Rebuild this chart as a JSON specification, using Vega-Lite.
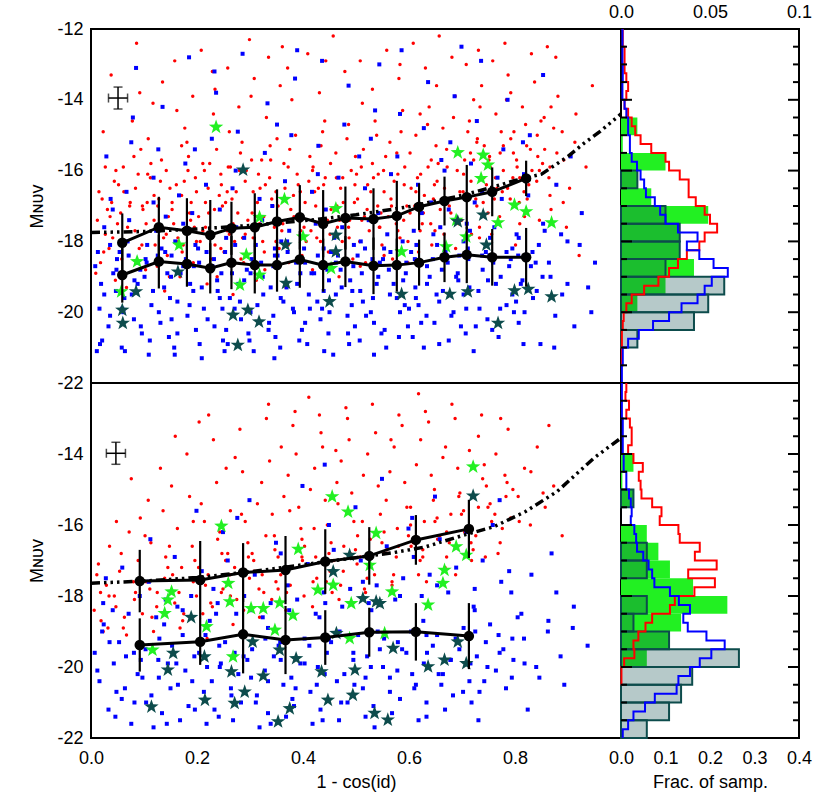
{
  "$schema": "https://vega.github.io/schema/vega-lite/v6.json",
  "padding": {"left": 27, "top": 2, "right": 5, "bottom": 5},
  "config": {
    "font": "Liberation Sans",
    "view": {"stroke": "black", "strokeWidth": 2},
    "axis": {
      "grid": false, "domain": false, "ticks": false,
      "labelPadding": 8, "labelFontSize": 18, "labelColor": "black", "labelFlush": false, "labelOverlap": false,
      "titleFontSize": 18, "titleFontWeight": "normal", "titleColor": "black"
    },
    "axisBottom": {"labelPadding": 11}
  },
  "datasets": {
    "tMajY": [{"v":-14},{"v":-16},{"v":-18},{"v":-20}],
    "tMinY": [{"v":-12.5},{"v":-13},{"v":-13.5},{"v":-14.5},{"v":-15},{"v":-15.5},{"v":-16.5},{"v":-17},{"v":-17.5},{"v":-18.5},{"v":-19},{"v":-19.5},{"v":-20.5},{"v":-21},{"v":-21.5}],
    "tMajX": [{"v":0.2},{"v":0.4},{"v":0.6},{"v":0.8}],
    "tMinX": [{"v":0.05},{"v":0.1},{"v":0.15},{"v":0.25},{"v":0.3},{"v":0.35},{"v":0.45},{"v":0.5},{"v":0.55},{"v":0.65},{"v":0.7},{"v":0.75},{"v":0.85},{"v":0.9},{"v":0.95}],
    "tHT": [{"v":0.025},{"v":0.05},{"v":0.075}],
    "tHB": [{"v":0.1},{"v":0.2},{"v":0.3}],
    "redTop": [
      {"x":0.012,"y":-17.4},{"x":0.021,"y":-16.8},{"x":0.034,"y":-18.2},{"x":0.041,"y":-17.9},{"x":0.027,"y":-15.9},{"x":0.046,"y":-19.1},{"x":0.018,"y":-18.6},{"x":0.038,"y":-13.3},{"x":0.044,"y":-16.3},
      {"x":0.056,"y":-17.2},{"x":0.062,"y":-16.6},{"x":0.071,"y":-18.4},{"x":0.083,"y":-17.7},{"x":0.094,"y":-15.4},{"x":0.067,"y":-19.3},{"x":0.089,"y":-16.1},{"x":0.078,"y":-14.6},{"x":0.097,"y":-17.0},{"x":0.059,"y":-18.9},{"x":0.086,"y":-12.4},{"x":0.074,"y":-16.9},
      {"x":0.104,"y":-17.5},{"x":0.112,"y":-16.2},{"x":0.121,"y":-18.1},{"x":0.133,"y":-15.7},{"x":0.146,"y":-17.3},{"x":0.139,"y":-19.4},{"x":0.117,"y":-14.1},{"x":0.128,"y":-16.8},{"x":0.142,"y":-17.8},{"x":0.108,"y":-15.1},{"x":0.135,"y":-13.5},{"x":0.149,"y":-16.5},{"x":0.125,"y":-18.7},
      {"x":0.153,"y":-17.1},{"x":0.161,"y":-16.4},{"x":0.172,"y":-18.3},{"x":0.184,"y":-15.6},{"x":0.195,"y":-17.6},{"x":0.168,"y":-19.0},{"x":0.177,"y":-14.8},{"x":0.189,"y":-16.9},{"x":0.158,"y":-12.9},{"x":0.199,"y":-18.0},{"x":0.181,"y":-15.2},{"x":0.164,"y":-17.9},{"x":0.192,"y":-13.9},
      {"x":0.203,"y":-17.3},{"x":0.214,"y":-16.0},{"x":0.226,"y":-18.5},{"x":0.237,"y":-15.4},{"x":0.248,"y":-17.0},{"x":0.219,"y":-19.2},{"x":0.231,"y":-14.4},{"x":0.242,"y":-16.7},{"x":0.208,"y":-12.6},{"x":0.245,"y":-18.2},{"x":0.224,"y":-15.8},{"x":0.211,"y":-17.7},{"x":0.234,"y":-13.7},
      {"x":0.254,"y":-16.9},{"x":0.263,"y":-15.9},{"x":0.271,"y":-18.0},{"x":0.285,"y":-15.2},{"x":0.296,"y":-17.4},{"x":0.268,"y":-19.5},{"x":0.279,"y":-14.2},{"x":0.291,"y":-16.3},{"x":0.258,"y":-13.1},{"x":0.288,"y":-18.6},{"x":0.274,"y":-16.6},{"x":0.261,"y":-17.8},{"x":0.299,"y":-12.3},{"x":0.282,"y":-15.5},
      {"x":0.304,"y":-17.2},{"x":0.316,"y":-16.1},{"x":0.327,"y":-18.3},{"x":0.338,"y":-15.3},{"x":0.346,"y":-17.6},{"x":0.312,"y":-19.1},{"x":0.331,"y":-14.5},{"x":0.341,"y":-16.8},{"x":0.308,"y":-13.4},{"x":0.349,"y":-18.0},{"x":0.322,"y":-15.7},{"x":0.335,"y":-12.8},{"x":0.319,"y":-16.5},
      {"x":0.353,"y":-17.0},{"x":0.364,"y":-15.8},{"x":0.372,"y":-18.1},{"x":0.386,"y":-15.0},{"x":0.394,"y":-17.3},{"x":0.368,"y":-19.3},{"x":0.379,"y":-14.0},{"x":0.391,"y":-16.4},{"x":0.357,"y":-13.6},{"x":0.398,"y":-18.4},{"x":0.382,"y":-16.7},{"x":0.361,"y":-12.5},{"x":0.375,"y":-15.4},
      {"x":0.404,"y":-16.9},{"x":0.413,"y":-15.6},{"x":0.426,"y":-17.9},{"x":0.437,"y":-14.9},{"x":0.446,"y":-17.4},{"x":0.418,"y":-18.8},{"x":0.431,"y":-13.8},{"x":0.442,"y":-16.2},{"x":0.409,"y":-12.7},{"x":0.448,"y":-18.3},{"x":0.422,"y":-16.6},{"x":0.434,"y":-15.3},{"x":0.415,"y":-17.7},
      {"x":0.453,"y":-17.1},{"x":0.462,"y":-15.5},{"x":0.474,"y":-18.0},{"x":0.486,"y":-14.7},{"x":0.497,"y":-16.9},{"x":0.468,"y":-19.0},{"x":0.479,"y":-13.2},{"x":0.491,"y":-16.0},{"x":0.457,"y":-12.2},{"x":0.494,"y":-18.5},{"x":0.471,"y":-16.5},{"x":0.483,"y":-15.1},{"x":0.465,"y":-17.6},
      {"x":0.503,"y":-16.8},{"x":0.514,"y":-15.4},{"x":0.525,"y":-17.7},{"x":0.536,"y":-14.6},{"x":0.547,"y":-17.2},{"x":0.518,"y":-18.6},{"x":0.531,"y":-13.7},{"x":0.542,"y":-16.1},{"x":0.508,"y":-12.9},{"x":0.549,"y":-18.1},{"x":0.522,"y":-16.4},{"x":0.539,"y":-15.0},{"x":0.511,"y":-17.4},
      {"x":0.553,"y":-16.6},{"x":0.564,"y":-15.2},{"x":0.576,"y":-17.5},{"x":0.588,"y":-14.3},{"x":0.596,"y":-17.0},{"x":0.569,"y":-18.5},{"x":0.581,"y":-13.4},{"x":0.592,"y":-15.9},{"x":0.558,"y":-12.6},{"x":0.598,"y":-18.0},{"x":0.572,"y":-16.3},{"x":0.585,"y":-14.9},{"x":0.561,"y":-17.3},
      {"x":0.604,"y":-16.5},{"x":0.613,"y":-15.0},{"x":0.627,"y":-17.2},{"x":0.638,"y":-14.2},{"x":0.646,"y":-16.8},{"x":0.618,"y":-18.3},{"x":0.631,"y":-13.1},{"x":0.642,"y":-15.7},{"x":0.608,"y":-12.4},{"x":0.649,"y":-17.7},{"x":0.622,"y":-16.1},{"x":0.635,"y":-14.7},{"x":0.611,"y":-17.0},
      {"x":0.653,"y":-16.3},{"x":0.664,"y":-14.8},{"x":0.676,"y":-17.0},{"x":0.687,"y":-13.9},{"x":0.696,"y":-16.6},{"x":0.668,"y":-18.1},{"x":0.681,"y":-12.8},{"x":0.692,"y":-15.5},{"x":0.657,"y":-12.2},{"x":0.699,"y":-17.4},{"x":0.672,"y":-15.9},{"x":0.684,"y":-14.5},{"x":0.661,"y":-16.9},
      {"x":0.703,"y":-16.1},{"x":0.714,"y":-14.6},{"x":0.726,"y":-16.8},{"x":0.737,"y":-13.6},{"x":0.746,"y":-16.4},{"x":0.718,"y":-17.8},{"x":0.731,"y":-12.6},{"x":0.742,"y":-15.3},{"x":0.708,"y":-13.0},{"x":0.749,"y":-17.2},{"x":0.722,"y":-15.7},{"x":0.734,"y":-14.2},{"x":0.711,"y":-16.7},
      {"x":0.753,"y":-15.9},{"x":0.764,"y":-14.4},{"x":0.776,"y":-16.6},{"x":0.787,"y":-13.3},{"x":0.796,"y":-16.2},{"x":0.768,"y":-17.5},{"x":0.781,"y":-12.4},{"x":0.792,"y":-15.1},{"x":0.758,"y":-12.9},{"x":0.799,"y":-17.0},{"x":0.772,"y":-15.5},{"x":0.784,"y":-14.0},{"x":0.761,"y":-16.8},
      {"x":0.803,"y":-15.7},{"x":0.814,"y":-14.2},{"x":0.826,"y":-16.4},{"x":0.837,"y":-13.5},{"x":0.846,"y":-16.0},{"x":0.818,"y":-17.3},{"x":0.831,"y":-12.7},{"x":0.842,"y":-15.0},{"x":0.808,"y":-16.9},{"x":0.849,"y":-14.6},{"x":0.822,"y":-15.3},
      {"x":0.856,"y":-15.4},{"x":0.864,"y":-16.2},{"x":0.873,"y":-14.8},{"x":0.881,"y":-13.9},{"x":0.868,"y":-17.1},{"x":0.892,"y":-15.7},{"x":0.877,"y":-12.8},{"x":0.903,"y":-16.5},{"x":0.915,"y":-14.4},{"x":0.897,"y":-17.6},{"x":0.934,"y":-15.9},{"x":0.921,"y":-18.4},{"x":0.946,"y":-13.6},
      {"x":0.031,"y":-17.1},{"x":0.052,"y":-16.4},{"x":0.069,"y":-17.6},{"x":0.091,"y":-18.2},{"x":0.106,"y":-16.9},{"x":0.119,"y":-17.4},{"x":0.131,"y":-16.3},{"x":0.144,"y":-18.4},{"x":0.156,"y":-17.5},{"x":0.171,"y":-16.7},{"x":0.186,"y":-17.2},{"x":0.197,"y":-16.2},{"x":0.206,"y":-18.0},{"x":0.221,"y":-16.5},{"x":0.233,"y":-17.1},{"x":0.246,"y":-16.4},{"x":0.257,"y":-17.7},{"x":0.266,"y":-16.8},{"x":0.277,"y":-17.2},{"x":0.293,"y":-16.0},
      {"x":0.306,"y":-16.6},{"x":0.318,"y":-17.5},{"x":0.329,"y":-16.4},{"x":0.343,"y":-17.0},{"x":0.355,"y":-18.2},{"x":0.366,"y":-16.5},{"x":0.377,"y":-17.1},{"x":0.389,"y":-16.1},{"x":0.402,"y":-17.6},{"x":0.411,"y":-16.3},{"x":0.424,"y":-17.0},{"x":0.439,"y":-16.4},{"x":0.451,"y":-17.8},{"x":0.463,"y":-16.2},{"x":0.476,"y":-16.9},{"x":0.488,"y":-17.4},{"x":0.501,"y":-16.1},{"x":0.516,"y":-17.3},{"x":0.528,"y":-16.6},{"x":0.541,"y":-17.0},
      {"x":0.552,"y":-16.0},{"x":0.566,"y":-16.8},{"x":0.579,"y":-17.7},{"x":0.591,"y":-16.4},{"x":0.602,"y":-17.2},{"x":0.616,"y":-16.2},{"x":0.629,"y":-16.7},{"x":0.641,"y":-17.5},{"x":0.655,"y":-15.8},{"x":0.667,"y":-16.5},{"x":0.679,"y":-17.2},{"x":0.691,"y":-16.0},{"x":0.702,"y":-16.6},{"x":0.716,"y":-15.5},{"x":0.728,"y":-17.0},{"x":0.741,"y":-16.2},{"x":0.752,"y":-15.6},{"x":0.766,"y":-16.5},{"x":0.778,"y":-15.3},{"x":0.791,"y":-16.8},
      {"x":0.804,"y":-15.9},{"x":0.817,"y":-16.6},{"x":0.829,"y":-15.4},{"x":0.841,"y":-16.3},{"x":0.852,"y":-15.8},{"x":0.866,"y":-16.7},{"x":0.879,"y":-15.5},{"x":0.024,"y":-18.3},{"x":0.063,"y":-18.0},{"x":0.098,"y":-17.1},{"x":0.137,"y":-17.9},{"x":0.174,"y":-18.1},{"x":0.216,"y":-17.6},{"x":0.251,"y":-18.3},{"x":0.286,"y":-17.9},{"x":0.324,"y":-18.0},{"x":0.362,"y":-17.5},{"x":0.397,"y":-17.9},{"x":0.433,"y":-18.0},{"x":0.469,"y":-17.4},
      {"x":0.507,"y":-18.0},{"x":0.545,"y":-17.6},{"x":0.583,"y":-17.9},{"x":0.621,"y":-17.7},{"x":0.659,"y":-17.6},{"x":0.697,"y":-17.4},{"x":0.733,"y":-17.6},{"x":0.771,"y":-17.3},{"x":0.809,"y":-17.5},{"x":0.047,"y":-16.0},{"x":0.113,"y":-15.8},{"x":0.183,"y":-16.0},{"x":0.259,"y":-15.9},{"x":0.339,"y":-15.7},{"x":0.419,"y":-15.9},{"x":0.499,"y":-15.6},{"x":0.577,"y":-15.5},{"x":0.651,"y":-15.3},{"x":0.729,"y":-15.1},{"x":0.798,"y":-14.9},
      {"x":0.015,"y":-16.6},{"x":0.027,"y":-17.8},{"x":0.039,"y":-16.9},{"x":0.050,"y":-17.5},{"x":0.061,"y":-15.9},{"x":0.073,"y":-17.0},{"x":0.084,"y":-16.5},{"x":0.096,"y":-18.1},{"x":0.107,"y":-16.1},{"x":0.119,"y":-16.7},{"x":0.130,"y":-17.6},{"x":0.142,"y":-16.0},{"x":0.153,"y":-16.9},{"x":0.165,"y":-18.0},{"x":0.176,"y":-16.3},{"x":0.188,"y":-17.4},{"x":0.199,"y":-16.6},{"x":0.211,"y":-15.8},{"x":0.222,"y":-17.2},{"x":0.234,"y":-18.1},
      {"x":0.245,"y":-16.1},{"x":0.257,"y":-16.6},{"x":0.268,"y":-17.5},{"x":0.280,"y":-16.0},{"x":0.291,"y":-17.8},{"x":0.303,"y":-15.7},{"x":0.314,"y":-16.9},{"x":0.326,"y":-17.3},{"x":0.337,"y":-16.2},{"x":0.349,"y":-16.6},{"x":0.360,"y":-17.7},{"x":0.372,"y":-15.9},{"x":0.383,"y":-17.3},{"x":0.395,"y":-16.6},{"x":0.406,"y":-18.0},{"x":0.418,"y":-16.0},{"x":0.429,"y":-16.5},{"x":0.441,"y":-17.5},{"x":0.452,"y":-15.8},{"x":0.464,"y":-17.0},
      {"x":0.475,"y":-16.2},{"x":0.487,"y":-17.9},{"x":0.498,"y":-16.4},{"x":0.510,"y":-15.9},{"x":0.521,"y":-17.1},{"x":0.533,"y":-16.2},{"x":0.544,"y":-17.6},{"x":0.556,"y":-15.6},{"x":0.567,"y":-17.0},{"x":0.579,"y":-16.1},{"x":0.590,"y":-17.4},{"x":0.602,"y":-15.5},{"x":0.613,"y":-16.6},{"x":0.625,"y":-17.5},{"x":0.636,"y":-15.9},{"x":0.648,"y":-16.4},{"x":0.659,"y":-17.1},{"x":0.671,"y":-15.4},{"x":0.682,"y":-16.8},{"x":0.694,"y":-17.5},
      {"x":0.705,"y":-15.7},{"x":0.717,"y":-16.3},{"x":0.728,"y":-15.2},{"x":0.740,"y":-16.9},{"x":0.751,"y":-15.7},{"x":0.763,"y":-16.2},{"x":0.774,"y":-14.9},{"x":0.786,"y":-16.5},{"x":0.797,"y":-15.5},{"x":0.809,"y":-16.2},{"x":0.820,"y":-14.7},{"x":0.832,"y":-16.0},{"x":0.843,"y":-15.6},{"x":0.855,"y":-14.5},{"x":0.866,"y":-15.9},{"x":0.878,"y":-16.4},{"x":0.889,"y":-14.9},
      {"x":0.009,"y":-18.9},{"x":0.036,"y":-17.3},{"x":0.058,"y":-18.5},{"x":0.081,"y":-15.6},{"x":0.103,"y":-18.8},{"x":0.126,"y":-17.0},{"x":0.148,"y":-19.0},{"x":0.171,"y":-15.3},{"x":0.193,"y":-18.6},{"x":0.216,"y":-16.9},{"x":0.238,"y":-19.0},{"x":0.261,"y":-14.9},{"x":0.283,"y":-18.5},{"x":0.306,"y":-17.9},{"x":0.328,"y":-18.8},{"x":0.351,"y":-15.1},{"x":0.373,"y":-18.6},{"x":0.396,"y":-17.7},{"x":0.418,"y":-18.9},{"x":0.441,"y":-14.6},
      {"x":0.463,"y":-18.3},{"x":0.486,"y":-17.6},{"x":0.508,"y":-18.7},{"x":0.531,"y":-15.8},{"x":0.553,"y":-18.4},{"x":0.576,"y":-17.2},{"x":0.598,"y":-18.6},{"x":0.621,"y":-14.4},{"x":0.643,"y":-18.1},{"x":0.666,"y":-17.8},{"x":0.688,"y":-18.2},{"x":0.711,"y":-14.9},{"x":0.733,"y":-17.9},{"x":0.756,"y":-17.8},{"x":0.778,"y":-16.0},{"x":0.801,"y":-18.1},{"x":0.823,"y":-16.8},{"x":0.846,"y":-17.4},{"x":0.868,"y":-14.2},{"x":0.891,"y":-16.9},
      {"x":0.913,"y":-15.2},{"x":0.023,"y":-14.9},{"x":0.092,"y":-13.8},{"x":0.162,"y":-14.3},{"x":0.229,"y":-13.2},{"x":0.302,"y":-13.9},{"x":0.371,"y":-13.1},{"x":0.443,"y":-12.9},{"x":0.512,"y":-14.1},{"x":0.583,"y":-13.0},{"x":0.652,"y":-13.6},{"x":0.722,"y":-14.0},{"x":0.792,"y":-13.8},{"x":0.861,"y":-12.5}
    ],
    "blueTop": [
      {"x":0.008,"y":-18.7},{"x":0.016,"y":-19.9},{"x":0.025,"y":-17.6},{"x":0.033,"y":-20.4},{"x":0.042,"y":-18.9},{"x":0.011,"y":-21.1},{"x":0.029,"y":-15.6},{"x":0.047,"y":-19.4},{"x":0.037,"y":-16.8},{"x":0.021,"y":-20.8},
      {"x":0.054,"y":-18.3},{"x":0.063,"y":-19.6},{"x":0.072,"y":-17.4},{"x":0.081,"y":-20.2},{"x":0.093,"y":-18.8},{"x":0.058,"y":-21.0},{"x":0.076,"y":-15.2},{"x":0.088,"y":-19.2},{"x":0.067,"y":-16.6},{"x":0.096,"y":-20.6},{"x":0.085,"y":-13.1},{"x":0.069,"y":-18.0},
      {"x":0.103,"y":-18.5},{"x":0.114,"y":-19.8},{"x":0.123,"y":-17.7},{"x":0.131,"y":-20.3},{"x":0.144,"y":-18.9},{"x":0.109,"y":-21.2},{"x":0.127,"y":-15.4},{"x":0.138,"y":-19.3},{"x":0.118,"y":-16.9},{"x":0.147,"y":-20.7},{"x":0.135,"y":-14.2},{"x":0.106,"y":-18.1},{"x":0.141,"y":-17.3},
      {"x":0.152,"y":-18.4},{"x":0.163,"y":-19.7},{"x":0.174,"y":-17.5},{"x":0.182,"y":-20.1},{"x":0.194,"y":-18.7},{"x":0.157,"y":-21.0},{"x":0.178,"y":-15.8},{"x":0.187,"y":-19.2},{"x":0.166,"y":-16.7},{"x":0.198,"y":-20.5},{"x":0.185,"y":-12.8},{"x":0.159,"y":-18.0},{"x":0.191,"y":-17.2},
      {"x":0.204,"y":-18.6},{"x":0.213,"y":-19.9},{"x":0.225,"y":-17.8},{"x":0.233,"y":-20.4},{"x":0.246,"y":-18.9},{"x":0.209,"y":-21.3},{"x":0.228,"y":-15.1},{"x":0.239,"y":-19.4},{"x":0.217,"y":-16.4},{"x":0.249,"y":-20.8},{"x":0.236,"y":-13.8},{"x":0.202,"y":-18.2},{"x":0.243,"y":-17.1},
      {"x":0.253,"y":-18.3},{"x":0.262,"y":-19.6},{"x":0.274,"y":-17.6},{"x":0.283,"y":-20.2},{"x":0.294,"y":-18.8},{"x":0.258,"y":-20.9},{"x":0.277,"y":-14.9},{"x":0.289,"y":-19.1},{"x":0.267,"y":-16.5},{"x":0.297,"y":-20.6},{"x":0.286,"y":-12.7},{"x":0.255,"y":-17.9},{"x":0.271,"y":-19.9},
      {"x":0.303,"y":-18.5},{"x":0.314,"y":-19.8},{"x":0.323,"y":-17.4},{"x":0.336,"y":-20.3},{"x":0.344,"y":-18.7},{"x":0.307,"y":-21.1},{"x":0.328,"y":-15.5},{"x":0.339,"y":-19.3},{"x":0.318,"y":-16.8},{"x":0.348,"y":-20.7},{"x":0.333,"y":-14.1},{"x":0.311,"y":-18.1},{"x":0.342,"y":-17.0},
      {"x":0.352,"y":-18.4},{"x":0.363,"y":-19.7},{"x":0.374,"y":-17.7},{"x":0.383,"y":-20.0},{"x":0.395,"y":-18.9},{"x":0.357,"y":-21.0},{"x":0.378,"y":-15.0},{"x":0.389,"y":-19.2},{"x":0.366,"y":-16.3},{"x":0.398,"y":-20.5},{"x":0.385,"y":-13.4},{"x":0.359,"y":-18.0},{"x":0.392,"y":-17.3},
      {"x":0.404,"y":-18.6},{"x":0.413,"y":-19.9},{"x":0.424,"y":-17.5},{"x":0.433,"y":-20.2},{"x":0.446,"y":-18.8},{"x":0.408,"y":-20.9},{"x":0.429,"y":-15.3},{"x":0.439,"y":-19.4},{"x":0.417,"y":-16.6},{"x":0.448,"y":-20.6},{"x":0.436,"y":-12.9},{"x":0.402,"y":-18.2},{"x":0.443,"y":-17.1},
      {"x":0.453,"y":-18.3},{"x":0.462,"y":-19.5},{"x":0.474,"y":-17.6},{"x":0.484,"y":-20.1},{"x":0.495,"y":-18.7},{"x":0.457,"y":-21.2},{"x":0.478,"y":-14.7},{"x":0.489,"y":-19.1},{"x":0.467,"y":-16.2},{"x":0.498,"y":-20.4},{"x":0.486,"y":-13.6},{"x":0.459,"y":-17.9},{"x":0.492,"y":-19.8},
      {"x":0.503,"y":-18.4},{"x":0.513,"y":-19.7},{"x":0.524,"y":-17.4},{"x":0.534,"y":-20.3},{"x":0.545,"y":-18.6},{"x":0.507,"y":-20.8},{"x":0.528,"y":-15.1},{"x":0.539,"y":-19.2},{"x":0.517,"y":-16.5},{"x":0.548,"y":-20.6},{"x":0.536,"y":-14.3},{"x":0.509,"y":-18.0},{"x":0.542,"y":-17.2},
      {"x":0.553,"y":-18.2},{"x":0.564,"y":-19.5},{"x":0.574,"y":-17.3},{"x":0.583,"y":-20.0},{"x":0.595,"y":-18.6},{"x":0.557,"y":-21.0},{"x":0.578,"y":-15.6},{"x":0.589,"y":-19.1},{"x":0.566,"y":-16.1},{"x":0.598,"y":-20.4},{"x":0.586,"y":-12.6},{"x":0.559,"y":-17.8},{"x":0.592,"y":-19.8},
      {"x":0.604,"y":-18.3},{"x":0.613,"y":-19.6},{"x":0.624,"y":-17.2},{"x":0.633,"y":-20.1},{"x":0.645,"y":-18.5},{"x":0.607,"y":-20.7},{"x":0.628,"y":-14.8},{"x":0.639,"y":-19.0},{"x":0.617,"y":-16.4},{"x":0.648,"y":-20.3},{"x":0.636,"y":-13.5},{"x":0.609,"y":-17.7},{"x":0.642,"y":-16.9},
      {"x":0.653,"y":-18.1},{"x":0.664,"y":-19.4},{"x":0.675,"y":-17.1},{"x":0.684,"y":-20.0},{"x":0.695,"y":-18.4},{"x":0.657,"y":-20.9},{"x":0.678,"y":-15.2},{"x":0.689,"y":-19.0},{"x":0.667,"y":-16.0},{"x":0.698,"y":-20.4},{"x":0.686,"y":-13.9},{"x":0.659,"y":-17.6},
      {"x":0.703,"y":-18.0},{"x":0.714,"y":-19.3},{"x":0.724,"y":-16.9},{"x":0.733,"y":-19.9},{"x":0.745,"y":-18.3},{"x":0.707,"y":-20.6},{"x":0.728,"y":-14.6},{"x":0.739,"y":-18.8},{"x":0.717,"y":-15.8},{"x":0.748,"y":-20.2},{"x":0.736,"y":-12.9},{"x":0.709,"y":-17.5},
      {"x":0.753,"y":-17.9},{"x":0.764,"y":-19.2},{"x":0.775,"y":-16.8},{"x":0.784,"y":-19.8},{"x":0.795,"y":-18.2},{"x":0.757,"y":-20.5},{"x":0.778,"y":-15.4},{"x":0.789,"y":-18.7},{"x":0.767,"y":-16.2},{"x":0.798,"y":-20.0},{"x":0.786,"y":-14.0},
      {"x":0.803,"y":-17.8},{"x":0.814,"y":-19.1},{"x":0.825,"y":-16.7},{"x":0.834,"y":-19.6},{"x":0.845,"y":-18.1},{"x":0.807,"y":-20.3},{"x":0.828,"y":-15.0},{"x":0.839,"y":-18.6},{"x":0.817,"y":-16.1},{"x":0.848,"y":-20.9},
      {"x":0.856,"y":-17.7},{"x":0.867,"y":-19.0},{"x":0.878,"y":-16.4},{"x":0.889,"y":-19.5},{"x":0.899,"y":-18.0},{"x":0.912,"y":-20.4},{"x":0.926,"y":-17.2},{"x":0.938,"y":-19.3},{"x":0.951,"y":-18.6},{"x":0.874,"y":-21.0},{"x":0.905,"y":-15.6},
      {"x":0.019,"y":-19.2},{"x":0.049,"y":-18.5},{"x":0.077,"y":-19.5},{"x":0.101,"y":-19.0},{"x":0.126,"y":-18.4},{"x":0.149,"y":-19.6},{"x":0.169,"y":-18.9},{"x":0.193,"y":-19.4},{"x":0.218,"y":-18.3},{"x":0.238,"y":-19.1},{"x":0.264,"y":-18.6},{"x":0.281,"y":-19.7},{"x":0.301,"y":-18.9},{"x":0.325,"y":-19.5},{"x":0.347,"y":-18.2},{"x":0.369,"y":-19.3},{"x":0.387,"y":-18.6},{"x":0.411,"y":-19.5},{"x":0.428,"y":-18.4},{"x":0.449,"y":-19.1},
      {"x":0.471,"y":-18.8},{"x":0.493,"y":-19.4},{"x":0.511,"y":-18.9},{"x":0.532,"y":-19.6},{"x":0.551,"y":-18.5},{"x":0.571,"y":-19.2},{"x":0.594,"y":-18.9},{"x":0.612,"y":-19.3},{"x":0.634,"y":-18.7},{"x":0.652,"y":-19.5},{"x":0.673,"y":-18.6},{"x":0.693,"y":-19.1},{"x":0.712,"y":-18.5},{"x":0.731,"y":-19.4},{"x":0.752,"y":-18.4},{"x":0.773,"y":-19.0},{"x":0.792,"y":-18.5},{"x":0.811,"y":-19.2},{"x":0.833,"y":-18.3},{"x":0.852,"y":-19.0},
      {"x":0.036,"y":-18.1},{"x":0.087,"y":-18.6},{"x":0.133,"y":-18.2},{"x":0.179,"y":-18.5},{"x":0.229,"y":-18.7},{"x":0.272,"y":-18.1},{"x":0.321,"y":-18.6},{"x":0.371,"y":-18.3},{"x":0.421,"y":-18.9},{"x":0.466,"y":-18.4},{"x":0.517,"y":-18.2},{"x":0.562,"y":-18.8},{"x":0.614,"y":-18.1},{"x":0.662,"y":-18.8},{"x":0.711,"y":-18.2},{"x":0.759,"y":-18.6},{"x":0.806,"y":-18.4},
      {"x":0.061,"y":-20.0},{"x":0.152,"y":-20.2},{"x":0.248,"y":-19.9},{"x":0.344,"y":-20.1},{"x":0.436,"y":-19.9},{"x":0.528,"y":-20.0},{"x":0.618,"y":-19.8},{"x":0.708,"y":-19.9},{"x":0.802,"y":-19.7},
      {"x":0.013,"y":-18.3},{"x":0.025,"y":-19.5},{"x":0.036,"y":-20.1},{"x":0.048,"y":-18.8},{"x":0.059,"y":-19.9},{"x":0.071,"y":-18.4},{"x":0.082,"y":-19.1},{"x":0.094,"y":-20.4},{"x":0.105,"y":-18.6},{"x":0.117,"y":-19.4},{"x":0.128,"y":-20.0},{"x":0.140,"y":-18.3},{"x":0.151,"y":-19.0},{"x":0.163,"y":-20.6},{"x":0.174,"y":-18.7},{"x":0.186,"y":-19.8},{"x":0.197,"y":-18.1},{"x":0.209,"y":-19.3},{"x":0.220,"y":-20.2},{"x":0.232,"y":-18.5},
      {"x":0.243,"y":-19.6},{"x":0.255,"y":-20.5},{"x":0.266,"y":-18.9},{"x":0.278,"y":-19.2},{"x":0.289,"y":-17.9},{"x":0.301,"y":-20.0},{"x":0.312,"y":-18.7},{"x":0.324,"y":-19.0},{"x":0.335,"y":-20.5},{"x":0.347,"y":-18.4},{"x":0.358,"y":-19.6},{"x":0.370,"y":-18.0},{"x":0.381,"y":-19.9},{"x":0.393,"y":-18.5},{"x":0.404,"y":-20.3},{"x":0.416,"y":-18.9},{"x":0.427,"y":-19.7},{"x":0.439,"y":-18.2},{"x":0.450,"y":-20.0},{"x":0.462,"y":-18.6},
      {"x":0.473,"y":-19.3},{"x":0.485,"y":-20.6},{"x":0.496,"y":-18.1},{"x":0.508,"y":-19.4},{"x":0.519,"y":-20.1},{"x":0.531,"y":-18.5},{"x":0.542,"y":-19.0},{"x":0.554,"y":-20.5},{"x":0.565,"y":-18.3},{"x":0.577,"y":-19.6},{"x":0.588,"y":-18.0},{"x":0.600,"y":-19.9},{"x":0.611,"y":-18.5},{"x":0.623,"y":-20.3},{"x":0.634,"y":-19.2},{"x":0.646,"y":-17.8},{"x":0.657,"y":-19.7},{"x":0.669,"y":-18.3},{"x":0.680,"y":-20.1},{"x":0.692,"y":-18.9},
      {"x":0.703,"y":-19.5},{"x":0.715,"y":-17.7},{"x":0.726,"y":-20.4},{"x":0.738,"y":-18.4},{"x":0.749,"y":-19.1},{"x":0.761,"y":-17.6},{"x":0.772,"y":-19.9},{"x":0.784,"y":-18.3},{"x":0.795,"y":-19.5},{"x":0.807,"y":-17.9},{"x":0.818,"y":-20.0},{"x":0.830,"y":-18.7},{"x":0.841,"y":-19.4},{"x":0.853,"y":-17.5},{"x":0.864,"y":-18.6},{"x":0.876,"y":-20.1},{"x":0.887,"y":-17.8},{"x":0.899,"y":-19.2},{"x":0.922,"y":-18.1},{"x":0.944,"y":-20.0},
      {"x":0.017,"y":-20.9},{"x":0.064,"y":-21.1},{"x":0.111,"y":-20.8},{"x":0.158,"y":-21.2},{"x":0.205,"y":-20.9},{"x":0.252,"y":-21.1},{"x":0.299,"y":-20.8},{"x":0.346,"y":-21.3},{"x":0.393,"y":-20.8},{"x":0.440,"y":-21.1},{"x":0.487,"y":-20.9},{"x":0.534,"y":-21.2},{"x":0.581,"y":-20.7},{"x":0.628,"y":-21.0},{"x":0.675,"y":-20.8},{"x":0.722,"y":-21.1},{"x":0.769,"y":-20.7},{"x":0.816,"y":-20.9},
      {"x":0.041,"y":-17.1},{"x":0.118,"y":-16.2},{"x":0.196,"y":-15.4},{"x":0.273,"y":-16.0},{"x":0.351,"y":-14.7},{"x":0.428,"y":-16.1},{"x":0.506,"y":-15.6},{"x":0.583,"y":-14.4},{"x":0.661,"y":-15.7},{"x":0.738,"y":-16.6},{"x":0.815,"y":-15.2},{"x":0.079,"y":-14.5},{"x":0.233,"y":-13.2},{"x":0.389,"y":-12.6},{"x":0.544,"y":-13.0},{"x":0.699,"y":-12.5},{"x":0.853,"y":-13.3}
    ],
    "redBot": [
      {"x":0.006,"y":-18.4},{"x":0.014,"y":-17.1},{"x":0.023,"y":-19.0},{"x":0.035,"y":-16.6},{"x":0.044,"y":-18.0},{"x":0.029,"y":-17.7},
      {"x":0.054,"y":-17.3},{"x":0.063,"y":-18.6},{"x":0.072,"y":-16.2},{"x":0.084,"y":-17.9},{"x":0.093,"y":-15.8},{"x":0.067,"y":-19.1},{"x":0.089,"y":-17.0},{"x":0.076,"y":-14.7},
      {"x":0.104,"y":-17.6},{"x":0.113,"y":-16.5},{"x":0.124,"y":-18.3},{"x":0.136,"y":-15.6},{"x":0.145,"y":-17.2},{"x":0.118,"y":-19.0},{"x":0.131,"y":-14.4},{"x":0.141,"y":-16.9},{"x":0.108,"y":-15.3},
      {"x":0.154,"y":-17.4},{"x":0.163,"y":-16.1},{"x":0.175,"y":-18.5},{"x":0.186,"y":-15.2},{"x":0.196,"y":-17.0},{"x":0.168,"y":-18.9},{"x":0.181,"y":-14.0},{"x":0.191,"y":-16.6},{"x":0.159,"y":-13.5},{"x":0.199,"y":-18.0},
      {"x":0.203,"y":-17.2},{"x":0.214,"y":-15.9},{"x":0.226,"y":-18.2},{"x":0.237,"y":-14.8},{"x":0.247,"y":-16.8},{"x":0.219,"y":-19.2},{"x":0.231,"y":-13.6},{"x":0.243,"y":-16.2},{"x":0.208,"y":-15.4},{"x":0.249,"y":-17.8},{"x":0.222,"y":-12.9},
      {"x":0.254,"y":-17.0},{"x":0.263,"y":-15.6},{"x":0.275,"y":-18.1},{"x":0.286,"y":-14.5},{"x":0.296,"y":-16.5},{"x":0.268,"y":-18.8},{"x":0.281,"y":-13.3},{"x":0.291,"y":-15.9},{"x":0.258,"y":-16.8},{"x":0.299,"y":-17.5},{"x":0.272,"y":-14.1},
      {"x":0.304,"y":-16.8},{"x":0.314,"y":-15.4},{"x":0.326,"y":-17.9},{"x":0.337,"y":-14.2},{"x":0.346,"y":-16.3},{"x":0.318,"y":-18.6},{"x":0.331,"y":-13.0},{"x":0.342,"y":-15.7},{"x":0.308,"y":-17.3},{"x":0.349,"y":-17.6},{"x":0.322,"y":-14.8},{"x":0.335,"y":-12.6},
      {"x":0.353,"y":-16.9},{"x":0.364,"y":-15.2},{"x":0.376,"y":-17.7},{"x":0.387,"y":-14.0},{"x":0.396,"y":-16.1},{"x":0.368,"y":-18.4},{"x":0.381,"y":-13.2},{"x":0.392,"y":-15.5},{"x":0.358,"y":-17.4},{"x":0.399,"y":-17.0},{"x":0.372,"y":-14.6},{"x":0.385,"y":-12.8},
      {"x":0.403,"y":-16.6},{"x":0.414,"y":-15.0},{"x":0.426,"y":-17.5},{"x":0.437,"y":-13.8},{"x":0.446,"y":-16.0},{"x":0.418,"y":-18.3},{"x":0.431,"y":-12.9},{"x":0.442,"y":-15.3},{"x":0.408,"y":-17.1},{"x":0.449,"y":-16.8},{"x":0.422,"y":-14.4},{"x":0.434,"y":-13.4},
      {"x":0.453,"y":-16.5},{"x":0.464,"y":-14.8},{"x":0.476,"y":-17.3},{"x":0.487,"y":-13.6},{"x":0.496,"y":-15.9},{"x":0.468,"y":-18.1},{"x":0.481,"y":-12.7},{"x":0.492,"y":-15.1},{"x":0.458,"y":-17.0},{"x":0.499,"y":-16.7},{"x":0.472,"y":-14.2},{"x":0.484,"y":-13.0},
      {"x":0.503,"y":-16.3},{"x":0.514,"y":-14.6},{"x":0.526,"y":-17.1},{"x":0.537,"y":-13.4},{"x":0.546,"y":-15.7},{"x":0.518,"y":-17.9},{"x":0.531,"y":-12.6},{"x":0.542,"y":-14.9},{"x":0.508,"y":-16.9},{"x":0.549,"y":-16.5},{"x":0.522,"y":-14.0},
      {"x":0.553,"y":-16.2},{"x":0.564,"y":-14.5},{"x":0.576,"y":-16.9},{"x":0.587,"y":-13.2},{"x":0.596,"y":-15.5},{"x":0.568,"y":-17.7},{"x":0.581,"y":-12.9},{"x":0.592,"y":-14.8},{"x":0.558,"y":-16.7},{"x":0.599,"y":-16.3},{"x":0.572,"y":-13.8},
      {"x":0.603,"y":-16.0},{"x":0.614,"y":-14.3},{"x":0.626,"y":-16.7},{"x":0.637,"y":-13.1},{"x":0.646,"y":-15.3},{"x":0.618,"y":-17.4},{"x":0.631,"y":-12.8},{"x":0.642,"y":-14.6},{"x":0.608,"y":-16.5},{"x":0.649,"y":-15.9},{"x":0.622,"y":-13.6},
      {"x":0.653,"y":-15.8},{"x":0.664,"y":-14.1},{"x":0.676,"y":-16.5},{"x":0.687,"y":-13.0},{"x":0.696,"y":-15.1},{"x":0.668,"y":-17.2},{"x":0.681,"y":-12.6},{"x":0.692,"y":-14.4},{"x":0.658,"y":-16.3},{"x":0.699,"y":-15.7},
      {"x":0.703,"y":-15.6},{"x":0.714,"y":-13.9},{"x":0.726,"y":-16.3},{"x":0.737,"y":-12.9},{"x":0.746,"y":-14.9},{"x":0.718,"y":-17.0},{"x":0.731,"y":-13.5},{"x":0.742,"y":-14.3},{"x":0.708,"y":-16.1},{"x":0.749,"y":-15.5},
      {"x":0.753,"y":-15.4},{"x":0.764,"y":-14.0},{"x":0.776,"y":-16.1},{"x":0.787,"y":-13.3},{"x":0.796,"y":-15.0},{"x":0.768,"y":-16.8},{"x":0.781,"y":-14.6},{"x":0.792,"y":-15.8},
      {"x":0.806,"y":-15.2},{"x":0.818,"y":-14.4},{"x":0.829,"y":-16.0},{"x":0.842,"y":-13.8},{"x":0.857,"y":-15.5},{"x":0.873,"y":-14.9},{"x":0.889,"y":-16.3},{"x":0.864,"y":-13.2},
      {"x":0.018,"y":-17.9},{"x":0.047,"y":-18.3},{"x":0.082,"y":-18.1},{"x":0.111,"y":-17.8},{"x":0.139,"y":-17.5},{"x":0.166,"y":-17.9},{"x":0.193,"y":-17.6},{"x":0.221,"y":-17.4},{"x":0.246,"y":-17.9},{"x":0.271,"y":-17.2},{"x":0.297,"y":-16.9},{"x":0.323,"y":-17.4},{"x":0.347,"y":-16.7},{"x":0.374,"y":-17.2},{"x":0.398,"y":-16.4},
      {"x":0.424,"y":-16.9},{"x":0.451,"y":-17.3},{"x":0.477,"y":-16.6},{"x":0.502,"y":-17.1},{"x":0.527,"y":-16.4},{"x":0.553,"y":-16.8},{"x":0.578,"y":-16.1},{"x":0.604,"y":-16.6},{"x":0.629,"y":-15.9},{"x":0.654,"y":-16.4},{"x":0.679,"y":-15.7},{"x":0.705,"y":-16.2},{"x":0.731,"y":-15.5},{"x":0.756,"y":-15.9},{"x":0.783,"y":-15.2},
      {"x":0.032,"y":-18.9},{"x":0.097,"y":-18.5},{"x":0.158,"y":-18.2},{"x":0.211,"y":-18.5},{"x":0.263,"y":-18.0},{"x":0.317,"y":-17.8},{"x":0.369,"y":-17.9},{"x":0.419,"y":-17.6},{"x":0.471,"y":-17.7},{"x":0.521,"y":-17.5},{"x":0.571,"y":-17.4},{"x":0.621,"y":-17.0},{"x":0.671,"y":-16.9},{"x":0.721,"y":-16.7},{"x":0.772,"y":-16.5},
      {"x":0.011,"y":-17.4},{"x":0.034,"y":-18.0},{"x":0.057,"y":-16.8},{"x":0.080,"y":-17.6},{"x":0.102,"y":-16.3},{"x":0.125,"y":-17.9},{"x":0.148,"y":-16.6},{"x":0.171,"y":-17.2},{"x":0.193,"y":-15.9},{"x":0.216,"y":-17.7},{"x":0.239,"y":-16.4},{"x":0.262,"y":-17.4},{"x":0.284,"y":-15.7},{"x":0.307,"y":-17.0},{"x":0.330,"y":-16.3},{"x":0.353,"y":-17.8},{"x":0.375,"y":-15.6},{"x":0.398,"y":-16.9},{"x":0.421,"y":-16.1},{"x":0.444,"y":-17.6},
      {"x":0.466,"y":-15.4},{"x":0.489,"y":-16.8},{"x":0.512,"y":-15.9},{"x":0.535,"y":-17.4},{"x":0.557,"y":-15.3},{"x":0.580,"y":-16.6},{"x":0.603,"y":-15.5},{"x":0.626,"y":-16.9},{"x":0.648,"y":-15.0},{"x":0.671,"y":-16.2},{"x":0.694,"y":-15.2},{"x":0.717,"y":-16.5},{"x":0.739,"y":-14.7},{"x":0.762,"y":-15.7},{"x":0.785,"y":-14.8},{"x":0.808,"y":-15.9},{"x":0.830,"y":-14.5},{"x":0.853,"y":-15.1},
      {"x":0.019,"y":-18.7},{"x":0.061,"y":-18.9},{"x":0.115,"y":-18.6},{"x":0.173,"y":-18.7},{"x":0.229,"y":-18.3},{"x":0.288,"y":-18.4},{"x":0.341,"y":-18.1},{"x":0.402,"y":-18.0},{"x":0.455,"y":-17.9},{"x":0.516,"y":-17.8},{"x":0.568,"y":-17.6},{"x":0.633,"y":-17.6},{"x":0.688,"y":-17.4},{"x":0.744,"y":-16.9},
      {"x":0.048,"y":-15.9},{"x":0.152,"y":-14.9},{"x":0.255,"y":-14.4},{"x":0.359,"y":-13.8},{"x":0.462,"y":-13.9},{"x":0.566,"y":-13.6},{"x":0.669,"y":-13.8},{"x":0.773,"y":-13.0},{"x":0.204,"y":-13.1},{"x":0.411,"y":-12.4},{"x":0.618,"y":-12.3}
    ],
    "blueBot": [
      {"x":0.007,"y":-19.6},{"x":0.016,"y":-20.4},{"x":0.024,"y":-18.8},{"x":0.033,"y":-21.2},{"x":0.043,"y":-19.9},{"x":0.028,"y":-17.5},{"x":0.048,"y":-20.7},
      {"x":0.053,"y":-19.3},{"x":0.064,"y":-20.6},{"x":0.071,"y":-18.5},{"x":0.082,"y":-21.0},{"x":0.094,"y":-19.8},{"x":0.059,"y":-17.2},{"x":0.088,"y":-20.2},{"x":0.076,"y":-21.6},
      {"x":0.103,"y":-19.5},{"x":0.114,"y":-20.8},{"x":0.123,"y":-18.6},{"x":0.134,"y":-21.3},{"x":0.145,"y":-19.9},{"x":0.109,"y":-17.6},{"x":0.128,"y":-20.3},{"x":0.141,"y":-18.1},{"x":0.118,"y":-21.7},
      {"x":0.153,"y":-19.4},{"x":0.164,"y":-20.5},{"x":0.173,"y":-18.4},{"x":0.184,"y":-21.1},{"x":0.195,"y":-19.7},{"x":0.158,"y":-16.9},{"x":0.178,"y":-20.1},{"x":0.189,"y":-18.0},{"x":0.168,"y":-21.5},{"x":0.199,"y":-15.6},
      {"x":0.204,"y":-19.6},{"x":0.213,"y":-20.7},{"x":0.224,"y":-18.7},{"x":0.233,"y":-21.2},{"x":0.245,"y":-19.9},{"x":0.209,"y":-17.3},{"x":0.228,"y":-20.4},{"x":0.239,"y":-18.2},{"x":0.218,"y":-21.6},{"x":0.249,"y":-16.2},
      {"x":0.253,"y":-19.3},{"x":0.264,"y":-20.6},{"x":0.274,"y":-18.5},{"x":0.283,"y":-21.0},{"x":0.295,"y":-19.8},{"x":0.258,"y":-17.0},{"x":0.278,"y":-20.2},{"x":0.289,"y":-18.0},{"x":0.268,"y":-21.5},{"x":0.299,"y":-15.3},
      {"x":0.304,"y":-19.5},{"x":0.313,"y":-20.8},{"x":0.324,"y":-18.6},{"x":0.334,"y":-21.3},{"x":0.345,"y":-19.7},{"x":0.309,"y":-17.4},{"x":0.328,"y":-20.1},{"x":0.339,"y":-18.2},{"x":0.318,"y":-21.7},{"x":0.349,"y":-16.5},
      {"x":0.354,"y":-19.4},{"x":0.363,"y":-20.5},{"x":0.374,"y":-18.4},{"x":0.383,"y":-21.1},{"x":0.395,"y":-19.9},{"x":0.358,"y":-16.8},{"x":0.378,"y":-20.3},{"x":0.389,"y":-18.1},{"x":0.368,"y":-21.4},{"x":0.399,"y":-14.9},
      {"x":0.403,"y":-19.2},{"x":0.414,"y":-20.7},{"x":0.424,"y":-18.5},{"x":0.433,"y":-21.2},{"x":0.445,"y":-19.6},{"x":0.409,"y":-17.1},{"x":0.428,"y":-20.0},{"x":0.439,"y":-17.9},{"x":0.418,"y":-21.6},{"x":0.449,"y":-16.0},
      {"x":0.453,"y":-19.3},{"x":0.464,"y":-20.4},{"x":0.474,"y":-18.3},{"x":0.484,"y":-21.0},{"x":0.495,"y":-19.8},{"x":0.458,"y":-16.7},{"x":0.478,"y":-20.2},{"x":0.489,"y":-17.8},{"x":0.468,"y":-21.5},{"x":0.499,"y":-15.5},
      {"x":0.504,"y":-19.1},{"x":0.513,"y":-20.6},{"x":0.524,"y":-18.2},{"x":0.533,"y":-21.1},{"x":0.545,"y":-19.5},{"x":0.509,"y":-17.0},{"x":0.528,"y":-20.0},{"x":0.539,"y":-17.7},{"x":0.518,"y":-21.4},{"x":0.549,"y":-14.7},
      {"x":0.553,"y":-19.2},{"x":0.564,"y":-20.3},{"x":0.574,"y":-18.1},{"x":0.583,"y":-20.9},{"x":0.595,"y":-19.6},{"x":0.558,"y":-16.6},{"x":0.578,"y":-20.1},{"x":0.589,"y":-17.5},{"x":0.568,"y":-21.3},{"x":0.599,"y":-16.1},
      {"x":0.604,"y":-19.0},{"x":0.613,"y":-20.5},{"x":0.624,"y":-18.0},{"x":0.633,"y":-21.0},{"x":0.645,"y":-19.4},{"x":0.609,"y":-16.9},{"x":0.628,"y":-19.9},{"x":0.639,"y":-17.4},{"x":0.618,"y":-21.5},{"x":0.649,"y":-15.2},
      {"x":0.653,"y":-19.1},{"x":0.664,"y":-20.2},{"x":0.674,"y":-17.9},{"x":0.683,"y":-20.8},{"x":0.695,"y":-19.5},{"x":0.658,"y":-16.4},{"x":0.678,"y":-19.8},{"x":0.689,"y":-17.2},{"x":0.668,"y":-21.2},
      {"x":0.703,"y":-18.9},{"x":0.714,"y":-20.4},{"x":0.724,"y":-17.8},{"x":0.733,"y":-20.7},{"x":0.745,"y":-19.3},{"x":0.708,"y":-16.2},{"x":0.728,"y":-19.7},{"x":0.739,"y":-17.0},{"x":0.718,"y":-21.0},
      {"x":0.753,"y":-18.8},{"x":0.764,"y":-20.1},{"x":0.774,"y":-17.6},{"x":0.783,"y":-20.6},{"x":0.795,"y":-19.2},{"x":0.758,"y":-16.0},{"x":0.778,"y":-19.5},{"x":0.789,"y":-17.3},
      {"x":0.805,"y":-18.6},{"x":0.818,"y":-19.9},{"x":0.831,"y":-17.4},{"x":0.846,"y":-20.3},{"x":0.862,"y":-19.0},{"x":0.878,"y":-17.9},{"x":0.893,"y":-20.5},{"x":0.911,"y":-18.3},{"x":0.937,"y":-19.4},{"x":0.824,"y":-21.2},{"x":0.869,"y":-16.8},
      {"x":0.021,"y":-19.0},{"x":0.066,"y":-19.7},{"x":0.097,"y":-20.3},{"x":0.129,"y":-19.2},{"x":0.161,"y":-19.9},{"x":0.191,"y":-20.4},{"x":0.216,"y":-19.1},{"x":0.243,"y":-20.0},{"x":0.271,"y":-19.6},{"x":0.302,"y":-20.3},{"x":0.329,"y":-19.2},{"x":0.358,"y":-19.8},{"x":0.386,"y":-20.6},{"x":0.412,"y":-19.4},
      {"x":0.441,"y":-20.2},{"x":0.469,"y":-19.0},{"x":0.497,"y":-20.5},{"x":0.521,"y":-19.7},{"x":0.551,"y":-20.0},{"x":0.579,"y":-19.3},{"x":0.606,"y":-20.2},{"x":0.634,"y":-19.6},{"x":0.661,"y":-20.5},{"x":0.688,"y":-19.2},{"x":0.716,"y":-19.9},{"x":0.742,"y":-20.4},{"x":0.769,"y":-19.1},{"x":0.797,"y":-19.8},
      {"x":0.041,"y":-18.4},{"x":0.138,"y":-18.8},{"x":0.236,"y":-18.5},{"x":0.334,"y":-18.9},{"x":0.431,"y":-18.6},{"x":0.529,"y":-18.4},{"x":0.627,"y":-18.7},{"x":0.722,"y":-18.3},{"x":0.812,"y":-18.5},
      {"x":0.012,"y":-20.1},{"x":0.035,"y":-19.3},{"x":0.058,"y":-20.9},{"x":0.081,"y":-19.6},{"x":0.104,"y":-21.0},{"x":0.127,"y":-19.8},{"x":0.150,"y":-20.6},{"x":0.173,"y":-19.1},{"x":0.196,"y":-21.2},{"x":0.219,"y":-20.0},{"x":0.242,"y":-19.4},{"x":0.265,"y":-20.8},{"x":0.288,"y":-19.7},{"x":0.311,"y":-21.0},{"x":0.334,"y":-20.4},{"x":0.357,"y":-19.3},{"x":0.380,"y":-20.9},{"x":0.403,"y":-19.9},{"x":0.426,"y":-20.5},{"x":0.449,"y":-19.2},
      {"x":0.472,"y":-21.0},{"x":0.495,"y":-19.6},{"x":0.518,"y":-20.3},{"x":0.541,"y":-19.0},{"x":0.564,"y":-20.7},{"x":0.587,"y":-19.5},{"x":0.610,"y":-20.6},{"x":0.633,"y":-19.1},{"x":0.656,"y":-20.2},{"x":0.679,"y":-19.8},{"x":0.702,"y":-20.7},{"x":0.725,"y":-19.0},{"x":0.748,"y":-20.0},{"x":0.771,"y":-19.6},{"x":0.794,"y":-20.3},{"x":0.817,"y":-19.2},{"x":0.840,"y":-20.0},{"x":0.863,"y":-18.7},{"x":0.886,"y":-19.7},{"x":0.909,"y":-18.9},
      {"x":0.023,"y":-18.2},{"x":0.092,"y":-18.0},{"x":0.163,"y":-18.3},{"x":0.231,"y":-17.8},{"x":0.302,"y":-18.4},{"x":0.371,"y":-17.7},{"x":0.442,"y":-18.2},{"x":0.513,"y":-17.6},{"x":0.583,"y":-18.0},{"x":0.653,"y":-17.7},{"x":0.724,"y":-18.4},{"x":0.793,"y":-17.9},
      {"x":0.046,"y":-21.4},{"x":0.143,"y":-21.6},{"x":0.241,"y":-21.4},{"x":0.339,"y":-21.6},{"x":0.437,"y":-21.5},{"x":0.535,"y":-21.7},{"x":0.633,"y":-21.4},{"x":0.731,"y":-21.5},{"x":0.112,"y":-16.4},{"x":0.276,"y":-15.8},{"x":0.441,"y":-14.3},{"x":0.606,"y":-15.8},{"x":0.771,"y":-15.3}
    ],
    "sgTop": [
      {"x":0.236,"y":-14.77},{"x":0.692,"y":-15.49},{"x":0.74,"y":-15.56},{"x":0.749,"y":-15.84},{"x":0.736,"y":-16.22},{"x":0.365,"y":-16.81},{"x":0.462,"y":-17.07},{"x":0.318,"y":-17.32},{"x":0.799,"y":-16.97},{"x":0.821,"y":-17.16},{"x":0.768,"y":-17.47},{"x":0.869,"y":-17.47},
      {"x":0.689,"y":-17.4},{"x":0.708,"y":-17.87},{"x":0.4,"y":-17.87},{"x":0.166,"y":-18.1},{"x":0.67,"y":-18.15},{"x":0.293,"y":-18.38},{"x":0.087,"y":-18.57},{"x":0.586,"y":-18.29},{"x":0.453,"y":-18.76},{"x":0.318,"y":-18.95},{"x":0.281,"y":-19.23},{"x":0.057,"y":-19.42}
    ],
    "sdTop": [
      {"x":0.287,"y":-15.98},{"x":0.74,"y":-17.25},{"x":0.692,"y":-17.44},{"x":0.462,"y":-17.82},{"x":0.367,"y":-18.1},{"x":0.462,"y":-18.29},{"x":0.746,"y":-18.1},{"x":0.164,"y":-18.86},{"x":0.085,"y":-19.42},{"x":0.368,"y":-19.18},{"x":0.677,"y":-19.49},{"x":0.711,"y":-19.42},
      {"x":0.799,"y":-19.39},{"x":0.825,"y":-19.35},{"x":0.869,"y":-19.56},{"x":0.586,"y":-19.49},{"x":0.45,"y":-19.7},{"x":0.059,"y":-19.94},{"x":0.268,"y":-20.08},{"x":0.296,"y":-19.94},{"x":0.317,"y":-20.27},{"x":0.06,"y":-20.31},{"x":0.768,"y":-20.31},{"x":0.277,"y":-20.93}
    ],
    "sgBot": [
      {"x":0.721,"y":-14.36},{"x":0.455,"y":-15.2},{"x":0.485,"y":-15.63},{"x":0.246,"y":-16.03},{"x":0.538,"y":-16.23},{"x":0.391,"y":-16.68},{"x":0.689,"y":-16.61},{"x":0.708,"y":-16.85},{"x":0.667,"y":-17.27},{"x":0.664,"y":-17.64},{"x":0.526,"y":-17.13},{"x":0.259,"y":-17.64},
      {"x":0.457,"y":-17.69},{"x":0.428,"y":-17.83},{"x":0.152,"y":-17.88},{"x":0.568,"y":-17.88},{"x":0.145,"y":-18.11},{"x":0.262,"y":-18.16},{"x":0.302,"y":-18.35},{"x":0.325,"y":-18.35},{"x":0.356,"y":-18.19},{"x":0.491,"y":-18.21},{"x":0.636,"y":-18.25},{"x":0.139,"y":-18.49},
      {"x":0.381,"y":-18.54},{"x":0.218,"y":-18.86},{"x":0.347,"y":-18.96},{"x":0.554,"y":-19.05},{"x":0.488,"y":-19.19},{"x":0.116,"y":-19.52},{"x":0.268,"y":-19.71}
    ],
    "sdBot": [
      {"x":0.721,"y":-15.18},{"x":0.488,"y":-16.85},{"x":0.457,"y":-17.31},{"x":0.513,"y":-18.07},{"x":0.538,"y":-18.16},{"x":0.545,"y":-18.21},{"x":0.189,"y":-18.6},{"x":0.305,"y":-19.29},{"x":0.356,"y":-19.52},{"x":0.387,"y":-19.76},{"x":0.155,"y":-19.61},{"x":0.214,"y":-19.71},
      {"x":0.57,"y":-19.47},{"x":0.692,"y":-19.29},{"x":0.463,"y":-19.05},{"x":0.145,"y":-20.08},{"x":0.265,"y":-20.13},{"x":0.325,"y":-20.25},{"x":0.435,"y":-20.13},{"x":0.498,"y":-20.08},{"x":0.636,"y":-19.99},{"x":0.667,"y":-19.8},{"x":0.708,"y":-19.9},{"x":0.114,"y":-21.12},
      {"x":0.215,"y":-20.93},{"x":0.29,"y":-20.7},{"x":0.271,"y":-21.02},{"x":0.353,"y":-21.54},{"x":0.375,"y":-21.17},{"x":0.447,"y":-20.93},{"x":0.494,"y":-20.79},{"x":0.535,"y":-21.3},{"x":0.56,"y":-21.49}
    ],
    "curveTop": [
      {"x":0.0,"y":-17.75},{"x":0.1,"y":-17.72},{"x":0.2,"y":-17.65},{"x":0.3,"y":-17.55},{"x":0.4,"y":-17.42},{"x":0.5,"y":-17.25},{"x":0.6,"y":-17.02},{"x":0.7,"y":-16.7},{"x":0.75,"y":-16.5},{"x":0.8,"y":-16.28},{"x":0.85,"y":-16.1},{"x":0.9,"y":-15.6},{"x":0.93,"y":-15.23},{"x":0.96,"y":-14.9},{"x":1.0,"y":-14.4}
    ],
    "curveBot": [
      {"x":0.0,"y":-17.64},{"x":0.1,"y":-17.58},{"x":0.2,"y":-17.48},{"x":0.3,"y":-17.32},{"x":0.4,"y":-17.12},{"x":0.5,"y":-16.92},{"x":0.57,"y":-16.78},{"x":0.63,"y":-16.62},{"x":0.7,"y":-16.3},{"x":0.76,"y":-16.05},{"x":0.82,"y":-15.62},{"x":0.88,"y":-15.05},{"x":0.95,"y":-14.1},{"x":1.0,"y":-13.55}
    ],
    "medTop": [
      {"x":0.059,"y":-18.04,"hi":-17.21,"lo":-18.87,"g":"u"},{"x":0.128,"y":-17.6,"hi":-16.74,"lo":-18.46,"g":"u"},{"x":0.181,"y":-17.7,"hi":-16.78,"lo":-18.62,"g":"u"},{"x":0.225,"y":-17.82,"hi":-16.83,"lo":-18.81,"g":"u"},
      {"x":0.265,"y":-17.63,"hi":-16.88,"lo":-18.38,"g":"u"},{"x":0.309,"y":-17.6,"hi":-16.64,"lo":-18.56,"g":"u"},{"x":0.351,"y":-17.44,"hi":-16.53,"lo":-18.35,"g":"u"},{"x":0.394,"y":-17.32,"hi":-16.41,"lo":-18.23,"g":"u"},
      {"x":0.438,"y":-17.5,"hi":-16.55,"lo":-18.45,"g":"u"},{"x":0.48,"y":-17.34,"hi":-16.45,"lo":-18.23,"g":"u"},{"x":0.533,"y":-17.37,"hi":-16.5,"lo":-18.24,"g":"u"},{"x":0.577,"y":-17.28,"hi":-16.29,"lo":-18.27,"g":"u"},
      {"x":0.619,"y":-17.02,"hi":-16.36,"lo":-17.68,"g":"u"},{"x":0.667,"y":-16.86,"hi":-16.17,"lo":-17.55,"g":"u"},{"x":0.709,"y":-16.75,"hi":-15.84,"lo":-17.66,"g":"u"},{"x":0.757,"y":-16.6,"hi":-15.91,"lo":-17.29,"g":"u"},
      {"x":0.821,"y":-16.22,"hi":-15.72,"lo":-16.72,"g":"u"},
      {"x":0.059,"y":-18.95,"hi":-18.17,"lo":-19.73,"g":"l"},{"x":0.128,"y":-18.57,"hi":-17.81,"lo":-19.33,"g":"l"},{"x":0.181,"y":-18.64,"hi":-18.0,"lo":-19.28,"g":"l"},{"x":0.225,"y":-18.76,"hi":-18.05,"lo":-19.47,"g":"l"},
      {"x":0.265,"y":-18.6,"hi":-17.85,"lo":-19.35,"g":"l"},{"x":0.309,"y":-18.67,"hi":-17.87,"lo":-19.47,"g":"l"},{"x":0.351,"y":-18.67,"hi":-17.92,"lo":-19.42,"g":"l"},{"x":0.394,"y":-18.51,"hi":-17.71,"lo":-19.31,"g":"l"},
      {"x":0.438,"y":-18.67,"hi":-17.92,"lo":-19.42,"g":"l"},{"x":0.48,"y":-18.57,"hi":-17.85,"lo":-19.29,"g":"l"},{"x":0.533,"y":-18.69,"hi":-17.89,"lo":-19.49,"g":"l"},{"x":0.577,"y":-18.67,"hi":-17.92,"lo":-19.42,"g":"l"},
      {"x":0.619,"y":-18.6,"hi":-17.95,"lo":-19.25,"g":"l"},{"x":0.667,"y":-18.45,"hi":-17.75,"lo":-19.15,"g":"l"},{"x":0.709,"y":-18.38,"hi":-17.58,"lo":-19.18,"g":"l"},{"x":0.757,"y":-18.45,"hi":-17.65,"lo":-19.25,"g":"l"},
      {"x":0.821,"y":-18.45,"hi":-17.62,"lo":-19.28,"g":"l"}
    ],
    "medBot": [
      {"x":0.092,"y":-17.58,"hi":-16.7,"lo":-18.46,"g":"u"},{"x":0.206,"y":-17.55,"hi":-16.45,"lo":-18.65,"g":"u"},{"x":0.287,"y":-17.34,"hi":-16.51,"lo":-18.17,"g":"u"},{"x":0.367,"y":-17.27,"hi":-16.31,"lo":-18.23,"g":"u"},
      {"x":0.442,"y":-17.03,"hi":-16.12,"lo":-17.94,"g":"u"},{"x":0.525,"y":-16.87,"hi":-16.06,"lo":-17.68,"g":"u"},{"x":0.613,"y":-16.42,"hi":-15.72,"lo":-17.12,"g":"u"},{"x":0.713,"y":-16.11,"hi":-15.29,"lo":-16.93,"g":"u"},
      {"x":0.092,"y":-19.38,"hi":-18.63,"lo":-20.13,"g":"l"},{"x":0.206,"y":-19.29,"hi":-18.64,"lo":-19.94,"g":"l"},{"x":0.287,"y":-19.08,"hi":-17.98,"lo":-20.18,"g":"l"},{"x":0.367,"y":-19.24,"hi":-18.28,"lo":-20.2,"g":"l"},
      {"x":0.442,"y":-19.17,"hi":-18.4,"lo":-19.94,"g":"l"},{"x":0.525,"y":-19.02,"hi":-18.33,"lo":-19.71,"g":"l"},{"x":0.613,"y":-19.01,"hi":-18.2,"lo":-19.82,"g":"l"},{"x":0.713,"y":-19.13,"hi":-18.2,"lo":-20.06,"g":"l"}
    ],
    "gTop": [
      {"y":-14.5,"y2":-15,"v":0.0092},{"y":-15,"y2":-15.5,"v":0.001},{"y":-15.5,"y2":-16,"v":0.025},{"y":-16,"y2":-16.5,"v":0.0092},{"y":-16.5,"y2":-17,"v":0.017},{"y":-17,"y2":-17.5,"v":0.049},
      {"y":-17.5,"y2":-18,"v":0.033},{"y":-18,"y2":-18.5,"v":0.033},{"y":-18.5,"y2":-19,"v":0.041},{"y":-19,"y2":-19.5,"v":0.025},{"y":-19.5,"y2":-20,"v":0.0092}
    ],
    "hTop": [
      {"y":-16,"y2":-16.5,"v":0.0092},{"y":-17,"y2":-17.5,"v":0.025},{"y":-17.5,"y2":-18,"v":0.033},{"y":-18,"y2":-18.5,"v":0.033},{"y":-18.5,"y2":-19,"v":0.025},
      {"y":-19,"y2":-19.5,"v":0.058},{"y":-19.5,"y2":-20,"v":0.049},{"y":-20,"y2":-20.5,"v":0.041},{"y":-20.5,"y2":-21,"v":0.0092}
    ],
    "rTop": [
      {"y":-12,"v":0.001},{"y":-12.25,"v":0.001},{"y":-12.5,"v":0.002},{"y":-12.75,"v":0.002},{"y":-13,"v":0.002},{"y":-13.25,"v":0.003},{"y":-13.5,"v":0.004},{"y":-13.75,"v":0.003},
      {"y":-14,"v":0.002},{"y":-14.25,"v":0.004},{"y":-14.5,"v":0.006},{"y":-14.75,"v":0.008},{"y":-15,"v":0.011},{"y":-15.25,"v":0.017},{"y":-15.5,"v":0.025},{"y":-15.75,"v":0.027},
      {"y":-16,"v":0.033},{"y":-16.25,"v":0.038},{"y":-16.5,"v":0.038},{"y":-16.75,"v":0.042},{"y":-17,"v":0.047},{"y":-17.25,"v":0.05},{"y":-17.5,"v":0.054},{"y":-17.75,"v":0.047},
      {"y":-18,"v":0.044},{"y":-18.25,"v":0.037},{"y":-18.5,"v":0.032},{"y":-18.75,"v":0.027},{"y":-19,"v":0.021},{"y":-19.25,"v":0.013},{"y":-19.5,"v":0.006},{"y":-19.75,"v":0.003},
      {"y":-20,"v":0.0015},{"y":-20.25,"v":0.001},{"y":-20.5,"v":0.0005},{"y":-21,"v":0.0005},{"y":-21.5,"v":0}
    ],
    "bTop": [
      {"y":-12,"v":0.0008},{"y":-12.5,"v":0.0008},{"y":-13,"v":0.001},{"y":-13.5,"v":0.0008},{"y":-14,"v":0.002},{"y":-14.25,"v":0.003},{"y":-14.5,"v":0.004},{"y":-14.75,"v":0.004},
      {"y":-15,"v":0.005},{"y":-15.25,"v":0.005},{"y":-15.5,"v":0.006},{"y":-15.75,"v":0.009},{"y":-16,"v":0.011},{"y":-16.25,"v":0.013},{"y":-16.5,"v":0.014},{"y":-16.75,"v":0.019},
      {"y":-17,"v":0.022},{"y":-17.25,"v":0.025},{"y":-17.5,"v":0.032},{"y":-17.75,"v":0.043},{"y":-18,"v":0.037},{"y":-18.25,"v":0.044},{"y":-18.5,"v":0.052},{"y":-18.75,"v":0.06},
      {"y":-19,"v":0.051},{"y":-19.25,"v":0.047},{"y":-19.5,"v":0.043},{"y":-19.75,"v":0.034},{"y":-20,"v":0.027},{"y":-20.25,"v":0.018},{"y":-20.5,"v":0.01},{"y":-20.75,"v":0.004},
      {"y":-21,"v":0.001},{"y":-21.5,"v":0.0005},{"y":-22,"v":0.0005}
    ],
    "gBot": [
      {"y":-14,"y2":-14.5,"v":0.028},{"y":-14.5,"y2":-15,"v":0.003},{"y":-15,"y2":-15.5,"v":0.028},{"y":-16,"y2":-16.5,"v":0.058},{"y":-16.5,"y2":-17,"v":0.084},{"y":-17,"y2":-17.5,"v":0.11},
      {"y":-17.5,"y2":-18,"v":0.162},{"y":-18,"y2":-18.5,"v":0.239},{"y":-18.5,"y2":-19,"v":0.135},{"y":-19,"y2":-19.5,"v":0.108},{"y":-19.5,"y2":-20,"v":0.058}
    ],
    "hBot": [
      {"y":-15,"y2":-15.5,"v":0.028},{"y":-16.5,"y2":-17,"v":0.058},{"y":-17,"y2":-17.5,"v":0.058},{"y":-18,"y2":-18.5,"v":0.058},{"y":-18.5,"y2":-19,"v":0.028},{"y":-19,"y2":-19.5,"v":0.108},
      {"y":-19.5,"y2":-20,"v":0.265},{"y":-20,"y2":-20.5,"v":0.16},{"y":-20.5,"y2":-21,"v":0.135},{"y":-21,"y2":-21.5,"v":0.108},{"y":-21.5,"y2":-22,"v":0.058}
    ],
    "rBot": [
      {"y":-12,"v":0.012},{"y":-12.25,"v":0.01},{"y":-12.5,"v":0.018},{"y":-12.75,"v":0.012},{"y":-13,"v":0.02},{"y":-13.25,"v":0.024},{"y":-13.5,"v":0.024},{"y":-13.75,"v":0.016},
      {"y":-14,"v":0.028},{"y":-14.25,"v":0.049},{"y":-14.5,"v":0.04},{"y":-14.75,"v":0.044},{"y":-15,"v":0.046},{"y":-15.25,"v":0.07},{"y":-15.5,"v":0.091},{"y":-15.75,"v":0.087},
      {"y":-16,"v":0.129},{"y":-16.25,"v":0.132},{"y":-16.5,"v":0.177},{"y":-16.75,"v":0.166},{"y":-17,"v":0.215},{"y":-17.25,"v":0.151},{"y":-17.5,"v":0.211},{"y":-17.75,"v":0.165},
      {"y":-18,"v":0.121},{"y":-18.25,"v":0.11},{"y":-18.5,"v":0.07},{"y":-18.75,"v":0.055},{"y":-19,"v":0.039},{"y":-19.25,"v":0.028},{"y":-19.5,"v":0.03},{"y":-19.75,"v":0.007},
      {"y":-20,"v":0.001},{"y":-20.5,"v":0}
    ],
    "bBot": [
      {"y":-12,"v":0.002},{"y":-13,"v":0.004},{"y":-14,"v":0.006},{"y":-14.5,"v":0.012},{"y":-15,"v":0.018},{"y":-15.25,"v":0.022},{"y":-15.5,"v":0.024},{"y":-15.75,"v":0.022},
      {"y":-16,"v":0.03},{"y":-16.25,"v":0.034},{"y":-16.5,"v":0.036},{"y":-16.75,"v":0.05},{"y":-17,"v":0.062},{"y":-17.25,"v":0.07},{"y":-17.5,"v":0.075},{"y":-17.75,"v":0.11},
      {"y":-18,"v":0.13},{"y":-18.25,"v":0.155},{"y":-18.5,"v":0.14},{"y":-18.75,"v":0.15},{"y":-19,"v":0.192},{"y":-19.25,"v":0.233},{"y":-19.5,"v":0.203},{"y":-19.75,"v":0.177},
      {"y":-20,"v":0.155},{"y":-20.25,"v":0.129},{"y":-20.5,"v":0.125},{"y":-20.75,"v":0.076},{"y":-21,"v":0.054},{"y":-21.25,"v":0.028},{"y":-21.5,"v":0.016},{"y":-21.75,"v":0.004},{"y":-22,"v":0.004}
    ]
  },
  "columns": 2,
  "spacing": 0,
  "bounds": "flush",
  "concat": [
    {
      "width": 530, "height": 354,
      "encoding": {
        "x": {"field": "x", "type": "quantitative", "scale": {"domain": [0, 1], "nice": false, "zero": false},
              "axis": {"labels": false, "title": null}},
        "y": {"field": "y", "type": "quantitative", "scale": {"domain": [-22, -12], "nice": false, "zero": false},
              "axis": {"values": [-12, -14, -16, -18, -20, -22], "labelExpr": "'' + datum.value", "title": "Mɴᴜᴠ", "titlePadding": 10}}
      },
      "layer": [
        {"data": {"name": "redTop"}, "mark": {"type": "circle", "size": 12, "color": "#ff0000", "opacity": 1}},
        {"data": {"name": "blueTop"}, "mark": {"type": "square", "size": 16, "color": "#0000ff", "opacity": 1}},
        {"data": {"name": "sgTop"}, "mark": {"type": "point", "shape": "M0,-1L0.235,-0.324L0.951,-0.309L0.38,0.124L0.588,0.809L0,0.4L-0.588,0.809L-0.38,0.124L-0.951,-0.309L-0.235,-0.324Z", "filled": true, "size": 230, "color": "#22f022", "opacity": 1}},
        {"data": {"name": "sdTop"}, "mark": {"type": "point", "shape": "M0,-1L0.235,-0.324L0.951,-0.309L0.38,0.124L0.588,0.809L0,0.4L-0.588,0.809L-0.38,0.124L-0.951,-0.309L-0.235,-0.324Z", "filled": true, "size": 230, "color": "#0d4c4c", "opacity": 1}},
        {"data": {"name": "curveTop"}, "mark": {"type": "line", "color": "black", "strokeWidth": 3.5, "strokeDash": [9, 4, 2.5, 4, 2.5, 4, 2.5, 4]}},
        {"data": {"name": "medTop"}, "mark": {"type": "rule", "color": "black", "strokeWidth": 2.2},
         "encoding": {"y": {"field": "hi", "type": "quantitative"}, "y2": {"field": "lo"}}},
        {"data": {"name": "medTop"}, "mark": {"type": "line", "color": "black", "strokeWidth": 3}, "encoding": {"detail": {"field": "g"}}},
        {"data": {"name": "medTop"}, "mark": {"type": "point", "filled": true, "size": 110, "color": "black", "opacity": 1}},
        {"data": {"values": [{"x": 0.051, "y": -13.95, "hi": -13.64, "lo": -14.26, "xl": 0.033, "xh": 0.069}]},
         "mark": {"type": "errorbar", "ticks": {"size": 9, "thickness": 1.5}, "color": "black", "thickness": 1.5},
         "encoding": {"y": {"field": "hi", "type": "quantitative"}, "y2": {"field": "lo"}}},
        {"data": {"values": [{"x": 0.051, "y": -13.95, "hi": -13.64, "lo": -14.26, "xl": 0.033, "xh": 0.069}]},
         "mark": {"type": "errorbar", "ticks": {"size": 9, "thickness": 1.5}, "color": "black", "thickness": 1.5},
         "encoding": {"x": {"field": "xl", "type": "quantitative"}, "x2": {"field": "xh"}}},
        {"data": {"values": [{}]}, "mark": {"type": "text", "align": "left", "fontSize": 19, "color": "black"},
         "encoding": {"x": {"datum": 0.047}, "y": {"datum": -12.76}, "text": {"value": "7.8 < log(μ⁎ ) < 8.3"}}},
        {"data": {"values": [{}]}, "mark": {"type": "text", "align": "right", "fontSize": 19, "color": "black"},
         "encoding": {"x": {"datum": 0.768}, "y": {"datum": -12.76}, "text": {"value": "τ"}}},
        {"data": {"values": [{}]}, "mark": {"type": "text", "align": "left", "fontSize": 12, "dy": -8, "color": "black"},
         "encoding": {"x": {"datum": 0.771}, "y": {"datum": -12.76}, "text": {"value": "f"}}},
        {"data": {"values": [{}]}, "mark": {"type": "text", "align": "left", "fontSize": 12, "dy": 6, "color": "black"},
         "encoding": {"x": {"datum": 0.771}, "y": {"datum": -12.76}, "text": {"value": "B"}}},
        {"data": {"values": [{}]}, "mark": {"type": "text", "align": "left", "fontSize": 19, "color": "black"},
         "encoding": {"x": {"datum": 0.806}, "y": {"datum": -12.76}, "text": {"value": "= 2.26"}}},
        {"data": {"name": "tMajY"}, "mark": {"type": "tick", "orient": "horizontal", "size": 11, "thickness": 2, "color": "black", "opacity": 1},
         "encoding": {"x": {"datum": 0.0104}, "y": {"field": "v", "type": "quantitative"}}},
        {"data": {"name": "tMinY"}, "mark": {"type": "tick", "orient": "horizontal", "size": 6, "thickness": 2, "color": "black", "opacity": 1},
         "encoding": {"x": {"datum": 0.0057}, "y": {"field": "v", "type": "quantitative"}}},
        {"data": {"name": "tMajX"}, "mark": {"type": "tick", "orient": "vertical", "size": 11, "thickness": 2, "color": "black", "opacity": 1},
         "encoding": {"x": {"field": "v", "type": "quantitative"}, "y": {"datum": -21.845}}},
        {"data": {"name": "tMinX"}, "mark": {"type": "tick", "orient": "vertical", "size": 6, "thickness": 2, "color": "black", "opacity": 1},
         "encoding": {"x": {"field": "v", "type": "quantitative"}, "y": {"datum": -21.915}}},
        {"data": {"name": "tMajX"}, "mark": {"type": "tick", "orient": "vertical", "size": 11, "thickness": 2, "color": "black", "opacity": 1},
         "encoding": {"x": {"field": "v", "type": "quantitative"}, "y": {"datum": -12.155}}},
        {"data": {"name": "tMinX"}, "mark": {"type": "tick", "orient": "vertical", "size": 6, "thickness": 2, "color": "black", "opacity": 1},
         "encoding": {"x": {"field": "v", "type": "quantitative"}, "y": {"datum": -12.085}}}
      ]
    },
    {
      "width": 178, "height": 354,
      "encoding": {
        "x": {"field": "v", "type": "quantitative", "scale": {"domain": [0, 0.1], "nice": false, "zero": false},
              "axis": {"orient": "top", "values": [0, 0.05, 0.1], "labelExpr": "datum.value == 0 ? '0.0' : datum.value == 0.05 ? '0.05' : '0.1'", "title": null}},
        "y": {"field": "y", "type": "quantitative", "scale": {"domain": [-22, -12], "nice": false, "zero": false},
              "axis": {"labels": false, "title": null}}
      },
      "layer": [
        {"data": {"name": "gTop"}, "mark": {"type": "rect", "color": "#22f022", "opacity": 1}, "encoding": {"x2": {"datum": 0}, "y2": {"field": "y2"}}},
        {"data": {"name": "hTop"}, "mark": {"type": "rect", "fill": "#0d4c4c", "fillOpacity": 0.3, "stroke": "#0d4c4c", "strokeWidth": 2}, "encoding": {"x2": {"datum": 0}, "y2": {"field": "y2"}}},
        {"data": {"name": "rTop"}, "mark": {"type": "line", "color": "#ff0000", "strokeWidth": 2, "interpolate": "step-before"}, "encoding": {"order": {"field": "y", "sort": "descending"}}},
        {"data": {"name": "bTop"}, "mark": {"type": "line", "color": "#0000ff", "strokeWidth": 2, "interpolate": "step-before"}, "encoding": {"order": {"field": "y", "sort": "descending"}}},
        {"data": {"name": "tMajY"}, "mark": {"type": "tick", "orient": "horizontal", "size": 11, "thickness": 2, "color": "black", "opacity": 1},
         "encoding": {"x": {"datum": 0.0031}, "y": {"field": "v", "type": "quantitative"}}},
        {"data": {"name": "tMinY"}, "mark": {"type": "tick", "orient": "horizontal", "size": 6, "thickness": 2, "color": "black", "opacity": 1},
         "encoding": {"x": {"datum": 0.0017}, "y": {"field": "v", "type": "quantitative"}}},
        {"data": {"name": "tMajY"}, "mark": {"type": "tick", "orient": "horizontal", "size": 11, "thickness": 2, "color": "black", "opacity": 1},
         "encoding": {"x": {"datum": 0.0969}, "y": {"field": "v", "type": "quantitative"}}},
        {"data": {"name": "tMinY"}, "mark": {"type": "tick", "orient": "horizontal", "size": 6, "thickness": 2, "color": "black", "opacity": 1},
         "encoding": {"x": {"datum": 0.0983}, "y": {"field": "v", "type": "quantitative"}}},
        {"data": {"name": "tHT"}, "mark": {"type": "tick", "orient": "vertical", "size": 9, "thickness": 2, "color": "black", "opacity": 1},
         "encoding": {"y": {"datum": -12.127}}},
        {"data": {"name": "tHT"}, "mark": {"type": "tick", "orient": "vertical", "size": 9, "thickness": 2, "color": "black", "opacity": 1},
         "encoding": {"y": {"datum": -21.873}}}
      ]
    },
    {
      "width": 530, "height": 355,
      "encoding": {
        "x": {"field": "x", "type": "quantitative", "scale": {"domain": [0, 1], "nice": false, "zero": false},
              "axis": {"values": [0, 0.2, 0.4, 0.6, 0.8], "format": ".1f", "title": "1 - cos(id)", "titlePadding": 6}},
        "y": {"field": "y", "type": "quantitative", "scale": {"domain": [-22, -12], "nice": false, "zero": false},
              "axis": {"values": [-14, -16, -18, -20, -22], "labelExpr": "'' + datum.value", "title": "Mɴᴜᴠ", "titlePadding": 10}}
      },
      "layer": [
        {"data": {"name": "redBot"}, "mark": {"type": "circle", "size": 12, "color": "#ff0000", "opacity": 1}},
        {"data": {"name": "blueBot"}, "mark": {"type": "square", "size": 16, "color": "#0000ff", "opacity": 1}},
        {"data": {"name": "sgBot"}, "mark": {"type": "point", "shape": "M0,-1L0.235,-0.324L0.951,-0.309L0.38,0.124L0.588,0.809L0,0.4L-0.588,0.809L-0.38,0.124L-0.951,-0.309L-0.235,-0.324Z", "filled": true, "size": 230, "color": "#22f022", "opacity": 1}},
        {"data": {"name": "sdBot"}, "mark": {"type": "point", "shape": "M0,-1L0.235,-0.324L0.951,-0.309L0.38,0.124L0.588,0.809L0,0.4L-0.588,0.809L-0.38,0.124L-0.951,-0.309L-0.235,-0.324Z", "filled": true, "size": 230, "color": "#0d4c4c", "opacity": 1}},
        {"data": {"name": "curveBot"}, "mark": {"type": "line", "color": "black", "strokeWidth": 3.5, "strokeDash": [9, 4, 2.5, 4, 2.5, 4, 2.5, 4]}},
        {"data": {"name": "medBot"}, "mark": {"type": "rule", "color": "black", "strokeWidth": 2.2},
         "encoding": {"y": {"field": "hi", "type": "quantitative"}, "y2": {"field": "lo"}}},
        {"data": {"name": "medBot"}, "mark": {"type": "line", "color": "black", "strokeWidth": 3}, "encoding": {"detail": {"field": "g"}}},
        {"data": {"name": "medBot"}, "mark": {"type": "point", "filled": true, "size": 110, "color": "black", "opacity": 1}},
        {"data": {"values": [{"x": 0.047, "y": -13.98, "hi": -13.67, "lo": -14.29, "xl": 0.029, "xh": 0.065}]},
         "mark": {"type": "errorbar", "ticks": {"size": 9, "thickness": 1.5}, "color": "black", "thickness": 1.5},
         "encoding": {"y": {"field": "hi", "type": "quantitative"}, "y2": {"field": "lo"}}},
        {"data": {"values": [{"x": 0.047, "y": -13.98, "hi": -13.67, "lo": -14.29, "xl": 0.029, "xh": 0.065}]},
         "mark": {"type": "errorbar", "ticks": {"size": 9, "thickness": 1.5}, "color": "black", "thickness": 1.5},
         "encoding": {"x": {"field": "xl", "type": "quantitative"}, "x2": {"field": "xh"}}},
        {"data": {"values": [{}]}, "mark": {"type": "text", "align": "left", "fontSize": 19, "color": "black"},
         "encoding": {"x": {"datum": 0.047}, "y": {"datum": -12.74}, "text": {"value": "8.3 < log(μ⁎ ) < 8.8"}}},
        {"data": {"values": [{}]}, "mark": {"type": "text", "align": "right", "fontSize": 19, "color": "black"},
         "encoding": {"x": {"datum": 0.768}, "y": {"datum": -12.74}, "text": {"value": "τ"}}},
        {"data": {"values": [{}]}, "mark": {"type": "text", "align": "left", "fontSize": 12, "dy": -8, "color": "black"},
         "encoding": {"x": {"datum": 0.771}, "y": {"datum": -12.74}, "text": {"value": "f"}}},
        {"data": {"values": [{}]}, "mark": {"type": "text", "align": "left", "fontSize": 12, "dy": 6, "color": "black"},
         "encoding": {"x": {"datum": 0.771}, "y": {"datum": -12.74}, "text": {"value": "B"}}},
        {"data": {"values": [{}]}, "mark": {"type": "text", "align": "left", "fontSize": 19, "color": "black"},
         "encoding": {"x": {"datum": 0.806}, "y": {"datum": -12.74}, "text": {"value": "= 7.04"}}},
        {"data": {"name": "tMajY"}, "mark": {"type": "tick", "orient": "horizontal", "size": 11, "thickness": 2, "color": "black", "opacity": 1},
         "encoding": {"x": {"datum": 0.0104}, "y": {"field": "v", "type": "quantitative"}}},
        {"data": {"name": "tMinY"}, "mark": {"type": "tick", "orient": "horizontal", "size": 6, "thickness": 2, "color": "black", "opacity": 1},
         "encoding": {"x": {"datum": 0.0057}, "y": {"field": "v", "type": "quantitative"}}},
        {"data": {"name": "tMajX"}, "mark": {"type": "tick", "orient": "vertical", "size": 11, "thickness": 2, "color": "black", "opacity": 1},
         "encoding": {"x": {"field": "v", "type": "quantitative"}, "y": {"datum": -21.845}}},
        {"data": {"name": "tMinX"}, "mark": {"type": "tick", "orient": "vertical", "size": 6, "thickness": 2, "color": "black", "opacity": 1},
         "encoding": {"x": {"field": "v", "type": "quantitative"}, "y": {"datum": -21.915}}},
        {"data": {"name": "tMajX"}, "mark": {"type": "tick", "orient": "vertical", "size": 11, "thickness": 2, "color": "black", "opacity": 1},
         "encoding": {"x": {"field": "v", "type": "quantitative"}, "y": {"datum": -12.155}}},
        {"data": {"name": "tMinX"}, "mark": {"type": "tick", "orient": "vertical", "size": 6, "thickness": 2, "color": "black", "opacity": 1},
         "encoding": {"x": {"field": "v", "type": "quantitative"}, "y": {"datum": -12.085}}}
      ]
    },
    {
      "width": 178, "height": 355,
      "encoding": {
        "x": {"field": "v", "type": "quantitative", "scale": {"domain": [0, 0.4], "nice": false, "zero": false},
              "axis": {"values": [0, 0.1, 0.2, 0.3, 0.4], "format": ".1f", "title": "Frac. of samp.", "titlePadding": 6}},
        "y": {"field": "y", "type": "quantitative", "scale": {"domain": [-22, -12], "nice": false, "zero": false},
              "axis": {"labels": false, "title": null}}
      },
      "layer": [
        {"data": {"name": "gBot"}, "mark": {"type": "rect", "color": "#22f022", "opacity": 1}, "encoding": {"x2": {"datum": 0}, "y2": {"field": "y2"}}},
        {"data": {"name": "hBot"}, "mark": {"type": "rect", "fill": "#0d4c4c", "fillOpacity": 0.3, "stroke": "#0d4c4c", "strokeWidth": 2}, "encoding": {"x2": {"datum": 0}, "y2": {"field": "y2"}}},
        {"data": {"name": "rBot"}, "mark": {"type": "line", "color": "#ff0000", "strokeWidth": 2, "interpolate": "step-before"}, "encoding": {"order": {"field": "y", "sort": "descending"}}},
        {"data": {"name": "bBot"}, "mark": {"type": "line", "color": "#0000ff", "strokeWidth": 2, "interpolate": "step-before"}, "encoding": {"order": {"field": "y", "sort": "descending"}}},
        {"data": {"name": "tMajY"}, "mark": {"type": "tick", "orient": "horizontal", "size": 11, "thickness": 2, "color": "black", "opacity": 1},
         "encoding": {"x": {"datum": 0.0124}, "y": {"field": "v", "type": "quantitative"}}},
        {"data": {"name": "tMinY"}, "mark": {"type": "tick", "orient": "horizontal", "size": 6, "thickness": 2, "color": "black", "opacity": 1},
         "encoding": {"x": {"datum": 0.0067}, "y": {"field": "v", "type": "quantitative"}}},
        {"data": {"name": "tMajY"}, "mark": {"type": "tick", "orient": "horizontal", "size": 11, "thickness": 2, "color": "black", "opacity": 1},
         "encoding": {"x": {"datum": 0.3876}, "y": {"field": "v", "type": "quantitative"}}},
        {"data": {"name": "tMinY"}, "mark": {"type": "tick", "orient": "horizontal", "size": 6, "thickness": 2, "color": "black", "opacity": 1},
         "encoding": {"x": {"datum": 0.3933}, "y": {"field": "v", "type": "quantitative"}}},
        {"data": {"name": "tHB"}, "mark": {"type": "tick", "orient": "vertical", "size": 9, "thickness": 2, "color": "black", "opacity": 1},
         "encoding": {"y": {"datum": -12.127}}},
        {"data": {"name": "tHB"}, "mark": {"type": "tick", "orient": "vertical", "size": 9, "thickness": 2, "color": "black", "opacity": 1},
         "encoding": {"y": {"datum": -21.873}}}
      ]
    }
  ]
}
